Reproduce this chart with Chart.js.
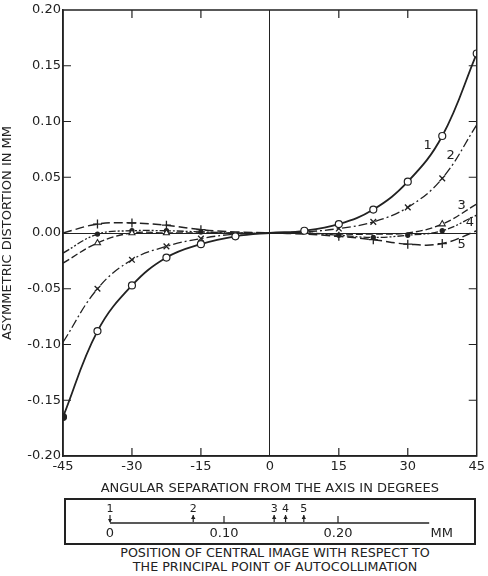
<!DOCTYPE html>
<html>
<head>
<meta charset="utf-8">
<script src="https://cdn.jsdelivr.net/npm/chart.js@4.4.1/dist/chart.umd.min.js"></script>
<style>
  body { margin: 0; background: #fff; }
  #wrap { position: relative; width: 488px; height: 576px; font-family: "DejaVu Sans", sans-serif; color: #222; }
  #mainChart { position: absolute; left: 0; top: 0; }
  #scaleBox { position: absolute; left: 64px; top: 498px; width: 408px; height: 43px; border: 2px solid #222; }
  #scaleChart { display: block; }
  #caption { position: absolute; left: 0; top: 546px; width: 550px; text-align: center; font-size: 12.7px; line-height: 13.5px; }
</style>
</head>
<body>
<div id="wrap">
  <canvas id="mainChart" width="488" height="496"></canvas>
  <div id="scaleBox"><canvas id="scaleChart" width="408" height="43"></canvas></div>
  <div id="caption">POSITION OF CENTRAL IMAGE WITH RESPECT TO<br>THE PRINCIPAL POINT OF AUTOCOLLIMATION</div>
</div>
<script>
// angular separation in degrees
const degrees = [-45, -37.5, -30, -22.5, -15, -7.5, 0, 7.5, 15, 22.5, 30, 37.5, 45];

// asymmetric distortion in mm, one list per curve
const curve1 = [-0.165, -0.088, -0.047, -0.022, -0.010, -0.003, 0, 0.002, 0.008, 0.021, 0.046, 0.087, 0.161];
const curve2 = [-0.098, -0.050, -0.024, -0.012, -0.005, -0.001, 0, 0.001, 0.004, 0.010, 0.023, 0.049, 0.097];
const curve3 = [-0.027, -0.009, 0.000, 0.000, 0.000, 0.000, 0, 0.000, -0.001, -0.001, 0.000, 0.008, 0.026];
const curve4 = [-0.018, -0.001, 0.002, 0.002, 0.001, 0.000, 0, 0.000, -0.002, -0.004, -0.002, 0.002, 0.016];
const curve5 = [0.000, 0.008, 0.009, 0.007, 0.003, 0.001, 0, -0.001, -0.003, -0.006, -0.010, -0.0095, 0.002];

// which points carry a marker
const marked1 = [-45, -37.5, -30, -22.5, -15, -7.5, 7.5, 15, 22.5, 30, 37.5, 45];
const marked2 = [-37.5, -30, -22.5, -15, 15, 22.5, 30, 37.5];
const marked3 = [-37.5, -30, -22.5, 37.5];
const marked4 = [-37.5, -30, -22.5, -15, 15, 22.5, 30, 37.5];
const marked5 = [-37.5, -30, -22.5, -15, 15, 22.5, 30, 37.5];

const curveLabels = ['1', '2', '3', '4', '5'];
const curveLabelX = [34.3, 39.3, 41.7, 43.5, 41.7];
const curveLabelY = [0.078, 0.069, 0.025, 0.009, -0.010];

const xTicks = [-45, -30, -15, 0, 15, 30, 45];
const yTicks = [-0.20, -0.15, -0.10, -0.05, 0.00, 0.05, 0.10, 0.15, 0.20];

// lower strip: position of central image (mm)
const stripTicks = [0, 0.10, 0.20];
const stripLabels = ['0', '0.10', '0.20'];
const stripEnd = 0.28;
const stripUnitAt = 0.291;
const imagePos = [0, 0.073, 0.144, 0.154, 0.170];
const imageNames = ['1', '2', '3', '4', '5'];

const INK = '#222';
const FONT = '"DejaVu Sans", sans-serif';

function pts(vals) {
    return degrees.map((d, i) => ({ x: d, y: vals[i] }));
}
function radii(marked, r) {
    return degrees.map(d => marked.includes(d) ? r : 0);
}

const frameTicks = {
    id: 'frameTicks',
    afterDraw(chart) {
        const { ctx, chartArea: a, scales } = chart;
        ctx.save();
        ctx.strokeStyle = INK;
        ctx.lineWidth = 1.5;
        ctx.strokeRect(a.left, a.top, a.right - a.left, a.bottom - a.top);
        ctx.lineWidth = 1.2;
        const len = 8;
        xTicks.forEach(v => {
            if (v === -45 || v === 45 || v === 0) return;
            const x = scales.x.getPixelForValue(v);
            ctx.beginPath();
            ctx.moveTo(x, a.top); ctx.lineTo(x, a.top + len);
            ctx.moveTo(x, a.bottom); ctx.lineTo(x, a.bottom - len);
            ctx.stroke();
        });
        yTicks.forEach(v => {
            if (Math.abs(v) > 0.19 || v === 0) return;
            const y = scales.y.getPixelForValue(v);
            ctx.beginPath();
            ctx.moveTo(a.left, y); ctx.lineTo(a.left + len, y);
            ctx.moveTo(a.right, y); ctx.lineTo(a.right - len, y);
            ctx.stroke();
        });
        ctx.fillStyle = INK;
        ctx.font = '13px ' + FONT;
        ctx.textAlign = 'center';
        ctx.textBaseline = 'middle';
        curveLabels.forEach((t, i) => {
            ctx.fillText(t, scales.x.getPixelForValue(curveLabelX[i]), scales.y.getPixelForValue(curveLabelY[i]));
        });
        ctx.restore();
    }
};

const zeroColor = c => c.tick && c.tick.value === 0 ? INK : 'rgba(0,0,0,0)';

new Chart(document.getElementById('mainChart'), {
    type: 'line',
    data: {
        datasets: [
            {
                data: pts(curve1), borderColor: INK, borderWidth: 1.8,
                pointStyle: 'circle', pointRadius: radii(marked1, 3.5),
                pointBackgroundColor: degrees.map(d => d === -45 ? INK : '#fff'),
                pointBorderColor: INK, pointBorderWidth: 1.2
            },
            {
                data: pts(curve2), borderColor: INK, borderWidth: 1.3, borderDash: [9, 3, 2, 3],
                pointStyle: 'crossRot', pointRadius: radii(marked2, 4),
                pointBorderColor: INK, pointBorderWidth: 1.3
            },
            {
                data: pts(curve3), borderColor: INK, borderWidth: 1.3, borderDash: [7, 3],
                pointStyle: 'triangle', pointRadius: radii(marked3, 3.5),
                pointBackgroundColor: '#fff', pointBorderColor: INK, pointBorderWidth: 1.1
            },
            {
                data: pts(curve4), borderColor: INK, borderWidth: 1.3, borderDash: [7, 2, 2, 2, 2, 2],
                pointStyle: 'circle', pointRadius: radii(marked4, 2),
                pointBackgroundColor: INK, pointBorderColor: INK
            },
            {
                data: pts(curve5), borderColor: INK, borderWidth: 1.5, borderDash: [9, 4],
                pointStyle: 'cross', pointRadius: radii(marked5, 4.5),
                pointBorderColor: INK, pointBorderWidth: 1.3
            }
        ]
    },
    options: {
        responsive: false,
        animation: false,
        tension: 0.4,
        layout: { padding: { top: 10, right: 11, left: 0, bottom: 0 } },
        plugins: { legend: { display: false }, tooltip: { enabled: false } },
        scales: {
            x: {
                type: 'linear', min: -45, max: 45,
                afterBuildTicks: s => { s.ticks = xTicks.map(v => ({ value: v })); },
                afterFit: s => { s.height = 40; },
                ticks: { color: INK, font: { family: FONT, size: 13 }, padding: 3, maxRotation: 0 },
                grid: { drawTicks: false, color: zeroColor, lineWidth: 1 },
                border: { color: INK, width: 1.5 },
                title: {
                    display: true, text: 'ANGULAR SEPARATION FROM THE AXIS IN DEGREES',
                    color: INK, font: { family: FONT, size: 13 }, padding: { top: 2, bottom: 0 }
                }
            },
            y: {
                type: 'linear', min: -0.2, max: 0.2,
                afterBuildTicks: s => { s.ticks = yTicks.map(v => ({ value: v })); },
                afterFit: s => { s.width = 63; },
                ticks: {
                    color: INK, font: { family: FONT, size: 13 }, padding: 2,
                    callback: v => v.toFixed(2)
                },
                grid: { drawTicks: false, color: zeroColor, lineWidth: 1 },
                border: { color: INK, width: 1.5 },
                title: {
                    display: true, text: 'ASYMMETRIC DISTORTION IN MM',
                    color: INK, font: { family: FONT, size: 13 }, padding: { top: 0, bottom: 1 }
                }
            }
        }
    },
    plugins: [frameTicks]
});

const stripMarks = {
    id: 'stripMarks',
    afterDraw(chart) {
        const { ctx, scales } = chart;
        const y0 = scales.y.getPixelForValue(0);
        ctx.save();
        ctx.strokeStyle = INK;
        ctx.fillStyle = INK;
        ctx.lineWidth = 1.2;
        stripTicks.forEach(v => {
            if (v === 0) return;
            const x = scales.x.getPixelForValue(v);
            ctx.beginPath(); ctx.moveTo(x, y0); ctx.lineTo(x, y0 - 7); ctx.stroke();
        });
        ctx.font = '11px ' + FONT;
        ctx.textAlign = 'center';
        ctx.textBaseline = 'middle';
        imagePos.forEach((v, i) => {
            const x = scales.x.getPixelForValue(v);
            ctx.beginPath(); ctx.moveTo(x, y0 - 1); ctx.lineTo(x, y0 - 8); ctx.stroke();
            ctx.beginPath();
            if (i === 0) {
                ctx.moveTo(x - 2, y0 - 4); ctx.lineTo(x + 2, y0 - 4); ctx.lineTo(x, y0);
            } else {
                ctx.moveTo(x - 2.2, y0 - 4); ctx.lineTo(x + 2.2, y0 - 4); ctx.lineTo(x, y0 - 8);
            }
            ctx.closePath(); ctx.fill();
            ctx.fillText(imageNames[i], x, y0 - 14);
        });
        ctx.restore();
    }
};

new Chart(document.getElementById('scaleChart'), {
    type: 'line',
    data: {
        datasets: [{
            data: [{ x: 0, y: 0 }, { x: stripEnd, y: 0 }],
            borderColor: INK, borderWidth: 1.3, pointRadius: 0, clip: false
        }]
    },
    options: {
        responsive: false,
        animation: false,
        layout: { padding: 0 },
        plugins: { legend: { display: false }, tooltip: { enabled: false } },
        scales: {
            x: {
                type: 'linear', min: -0.0386, max: 0.3193,
                afterBuildTicks: s => { s.ticks = stripTicks.concat([stripUnitAt]).map(v => ({ value: v })); },
                afterFit: s => { s.height = 20; },
                ticks: {
                    color: INK, font: { family: FONT, size: 13 }, padding: 3, maxRotation: 0, autoSkip: false,
                    callback: (v, i) => i < stripLabels.length ? stripLabels[i] : 'MM'
                },
                grid: { display: false, drawTicks: false, tickLength: 0 },
                border: { display: false }
            },
            y: { display: false, min: 0, max: 1 }
        }
    },
    plugins: [stripMarks]
});
</script>
</body>
</html>
